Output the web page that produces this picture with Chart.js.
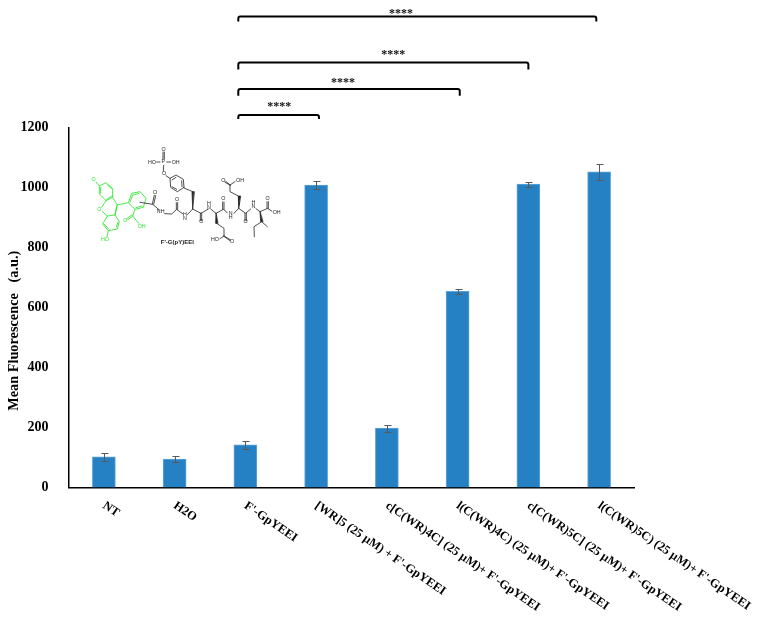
<!DOCTYPE html>
<html>
<head>
<meta charset="utf-8">
<script src="https://cdn.jsdelivr.net/npm/chart.js@4"></script>
<style>
html,body{margin:0;padding:0;background:#fff}
#wrap{position:relative;width:763px;height:620px;overflow:hidden}
canvas{position:absolute;left:0;top:0}
svg{position:absolute;left:0;top:110px}
svg text{font-family:"Liberation Sans",sans-serif;font-size:16px;text-anchor:middle;dominant-baseline:middle}
</style>
</head>
<body>
<div id="wrap">
<canvas id="c" width="763" height="620"></canvas>
<svg width="300" height="170" viewBox="0 0 900 510" fill="none" stroke-linecap="round">
  <g stroke="#2fe62f" stroke-width="2.6">
    <path d="M288 216L298 228L318 218L338 236L338 262L318 272L298 252L298 228M302 232L302 250M322 224L334 236M336 258L320 268"/>
    <path d="M318 272L305 292M338 262L352 285L345 315L322 318L306 304M345 314L350 288"/>
    <path d="M322 318L308 342L325 362L352 357L358 335L345 315M312 342L326 357M349 352L354 336"/>
    <path d="M325 362L321 380M352 285L385 278L395 250L420 245L438 265L430 292L405 298L385 278M400 255L417 250M426 288L408 293M390 276L398 255"/>
    <path d="M405 298L398 318L383 330M396 314L381 326M398 318L416 340"/>
    <text x="281" y="210" stroke="none" fill="#2fe62f">O</text>
    <text x="298" y="299" stroke="none" fill="#2fe62f">O</text>
    <text x="315" y="390" stroke="none" fill="#2fe62f">HO</text>
    <text x="376" y="333" stroke="none" fill="#2fe62f">O</text>
    <text x="425" y="350" stroke="none" fill="#2fe62f">OH</text>
  </g>
  <g stroke="#222" stroke-width="2.4">
    <path d="M420 277L458 283L478 300M457 282L463 256M461 283L467 257"/>
    <path d="M494 311L515 312L530 298L549 312M529 298L529 278M533 298L533 278M562 314L578 297L603 310L625 297M601 310L601 332M605 310L605 332"/>
    <path d="M552 232L550 208L528 195L510 205L512 232L532 245L552 232M516 210L528 202M516 230L530 238M545 212L546 230M552 234L578 245"/>
    <path d="M510 205L498 197M490 183L491 166M489 146L489 126M493 146L493 126M480 156L470 156M500 156L512 156"/>
    <path d="M633 298L648 310L670 298L682 308M668 298L668 276M672 298L672 276M702 310L716 295L737 310L752 297M735 310L735 332M739 310L739 332M768 296L780 305L803 295L816 304M801 295L801 275M805 295L805 275"/>
    <path d="M650 340L672 355L672 378L692 390M670 378L690 392M672 378L660 386M718 285L715 258L690 245L690 225L675 217M692 226L677 214M690 225L705 215M785 335L762 350L763 380M785 335L802 350"/>
    <path d="M578 297L576 245L582 245Z" fill="#222"/>
    <path d="M648 310L647 340L653 340Z" fill="#222"/>
    <path d="M716 295L715 258L721 258Z" fill="#222"/>
    <path d="M780 305L782 335L788 335Z" fill="#222"/>
    <g stroke="none" fill="#222">
      <text x="491" y="118">O</text><text x="490" y="156">P</text>
      <text x="456" y="157">HO</text><text x="527" y="157">OH</text>
      <text x="492" y="190">O</text><text x="465" y="248">O</text>
      <text x="482" y="306">NH</text><text x="531" y="270">O</text>
      <text x="555" y="315">H</text><text x="555" y="326">N</text>
      <text x="604" y="336">O</text><text x="627" y="280">H</text><text x="627" y="292">N</text>
      <text x="670" y="267">O</text><text x="692" y="312">N</text><text x="692" y="324">H</text>
      <text x="645" y="388">HO</text><text x="696" y="396">O</text>
      <text x="670" y="213">O</text><text x="720" y="213">OH</text>
      <text x="737" y="336">O</text><text x="760" y="279">H</text><text x="760" y="291">N</text>
      <text x="803" y="267">O</text><text x="830" y="308">OH</text>
      <text x="532" y="398" style="font-weight:700;font-size:18px">F'-G(pY)EEI</text>
    </g>
  </g>
</svg>
</div>
<script>
const categories = ["NT","H2O","F'-GpYEEI","[WR]5 (25 µM) + F'-GpYEEI","c[C(WR)4C] (25 µM)+ F'-GpYEEI","l(C(WR)4C) (25 µM)+ F'-GpYEEI","c[C(WR)5C] (25 µM)+ F'-GpYEEI","l(C(WR)5C) (25 µM)+ F'-GpYEEI"];
const meanFluorescence = [102,95,142,1008,198,654,1011,1052];
const errorValues = [12,10,12,13,12,8,9,27];
const yTicks = [0,200,400,600,800,1000,1200];
const bracketStart = [1.9,1.9,1.9,1.9];
const bracketEnd = [3.04,5.03,6.0,6.96];
const bracketLevel = [1242,1328,1417,1570];
const bracketDrop = [14,22,24,17];
const starPosition = [2.48,3.38,4.09,4.2];
const starLevel = [1270,1350,1441,1580];
const starLabel = ["****","****","****","****"];
const serif = '"Liberation Serif","Times New Roman",serif';

const annotate = {
  id:'annotate',
  afterDatasetsDraw(chart){
    const {ctx,scales:{x,y}} = chart;
    ctx.save();
    ctx.strokeStyle='#595959'; ctx.lineWidth=1;
    meanFluorescence.forEach((v,i)=>{
      const px=Math.round(x.getPixelForValue(i))+.5;
      const t=Math.round(y.getPixelForValue(v+errorValues[i]))+.5;
      const b=Math.round(y.getPixelForValue(v-errorValues[i]))+.5;
      ctx.beginPath();
      ctx.moveTo(px,t);ctx.lineTo(px,b);
      ctx.moveTo(px-3,t);ctx.lineTo(px+4,t);
      ctx.moveTo(px-3,b);ctx.lineTo(px+4,b);
      ctx.stroke();
    });
    ctx.strokeStyle='#000'; ctx.lineWidth=2; ctx.lineJoin='round';
    ctx.fillStyle='#111'; ctx.textAlign='center'; ctx.textBaseline='middle';
    ctx.font='bold 12px '+serif;
    bracketLevel.forEach((lv,i)=>{
      const l=x.getPixelForValue(bracketStart[i]), r=x.getPixelForValue(bracketEnd[i]);
      const py=y.getPixelForValue(lv), dy=y.getPixelForValue(lv-bracketDrop[i]);
      ctx.beginPath();ctx.moveTo(l,dy);ctx.arcTo(l,py,r,py,2);ctx.arcTo(r,py,r,dy,2);ctx.lineTo(r,dy);ctx.stroke();
    });
    starLevel.forEach((lv,i)=>ctx.fillText(starLabel[i],x.getPixelForValue(starPosition[i]),y.getPixelForValue(lv)));
    ctx.restore();
  }
};

new Chart(document.getElementById('c'),{
  type:'bar',
  data:{labels:categories,datasets:[{data:meanFluorescence,backgroundColor:'#2581c4',borderColor:'#5fa4d6',borderWidth:{left:1,right:1,top:1,bottom:0},barThickness:23}]},
  options:{
    responsive:false,animation:false,
    layout:{padding:{left:0,right:128.5,top:127.5,bottom:0}},
    plugins:{legend:{display:false},title:{display:false},tooltip:{enabled:false}},
    scales:{
      x:{
        beforeUpdate(s){s._getXAxisLabelAlignment=()=>'left';},
        afterFit(s){s.height=132.5;s.paddingLeft=0;s.paddingRight=0;},
        grid:{display:false},
        border:{color:'#000',width:1.5},
        ticks:{minRotation:-34.5,maxRotation:-34.5,autoSkip:false,padding:3,color:'#000',font:{family:serif,weight:'bold',size:12.3}}
      },
      y:{
        min:0,max:1200,
        afterFit(s){s.width=68.5;},
        afterBuildTicks(s){s.ticks=yTicks.map(v=>({value:v}));},
        grid:{display:false},
        border:{color:'#000',width:1.5},
        ticks:{padding:12,color:'#000',font:{family:serif,weight:'bold',size:14},callback:v=>String(v)},
        title:{display:true,text:"Mean Fluorescence   (a.u.)             ",color:'#000',padding:{top:6,bottom:0},font:{family:serif,weight:'bold',size:14.3}}
      }
    }
  },
  plugins:[annotate]
});
</script>
</body>
</html>
